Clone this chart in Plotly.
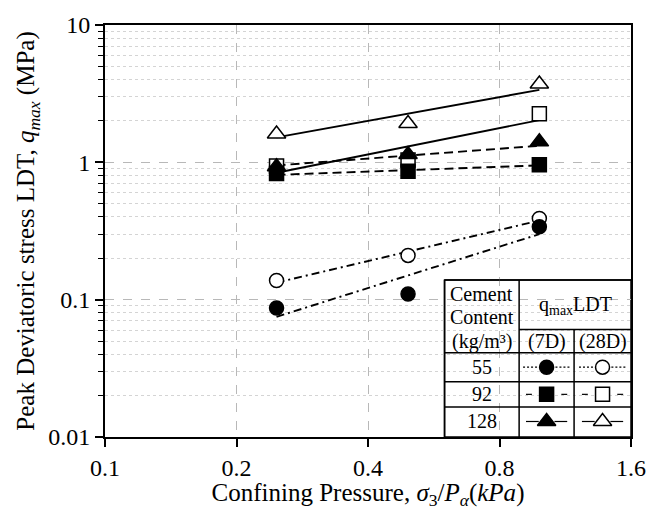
import plotly.graph_objects as go

# ---- data ----
pressure = [0.247, 0.494, 0.987]
c55_7d = [0.087, 0.110, 0.34]
c55_28d = [0.138, 0.21, 0.39]
c92_7d = [0.83, 0.86, 0.96]
c92_28d = [0.94, 1.04, 2.26]
c128_7d = [0.93, 1.14, 1.41]
c128_28d = [1.61, 1.92, 3.72]

trend_x = [0.247, 0.987]
trend_55_7d = [0.075, 0.30]
trend_55_28d = [0.133, 0.377]
trend_92_7d = [0.81, 0.95]
trend_92_28d = [0.84, 2.03]
trend_128_7d = [0.95, 1.32]
trend_128_28d = [1.52, 3.37]

x_ticks = [0.1, 0.2, 0.4, 0.8, 1.6]
x_ticktext = ["0.1", "0.2", "0.4", "0.8", "1.6"]
y_ticks = [0.01, 0.1, 1, 10]
y_ticktext = ["0.01", "0.1", "1", "10"]
cement = ["55", "92", "128"]

FONT = "Liberation Serif"
W, H = 658, 510
L, R, T, B = 105, 17, 20, 65
PW, PH = W - L - R, H - T - B


def px(x):
    return (x - L) / PW


def py(y):
    return (H - B - y) / PH


fig = go.Figure()

DASH55 = "8px,4px,2px,4px"
DASH92 = "9px,5px"

trends = [
    (trend_55_7d, DASH55), (trend_55_28d, DASH55),
    (trend_92_7d, DASH92), (trend_92_28d, "solid"),
    (trend_128_7d, DASH92), (trend_128_28d, "solid"),
]
for vals, dash in trends:
    fig.add_trace(go.Scatter(x=trend_x, y=vals, mode="lines",
                             line=dict(color="black", width=1.9, dash=dash),
                             showlegend=False, hoverinfo="skip"))

series = [
    (c55_28d, "circle-open", 14), (c92_28d, "square-open", 14), (c128_28d, "triangle-up-open", 16),
    (c92_7d, "square", 14), (c55_7d, "circle", 14), (c128_7d, "triangle-up", 16),
]
for vals, sym, sz in series:
    open_ = sym.endswith("open")
    fig.add_trace(go.Scatter(
        x=pressure, y=vals, mode="markers", showlegend=False,
        marker=dict(symbol=sym.replace("-open", ""), size=sz,
                    color="white" if open_ else "black",
                    line=dict(color="black", width=1.5))))

# legend-table symbols on an overlay axis mapped to paper coords
col7, col28 = px(555), px(612)
rows_y = [py(373), py(401), py(429)]
# (symbol, dash, segment inner offset px, segment outer offset px, size)
leg = [
    ("circle", "2px,2px", 9, 24, 14),
    ("square", "solid", 15, 21, 14),
    ("triangle-up", "solid", 8, 21, 16),
]
for i, (sym, dash, gin, gout, sz) in enumerate(leg):
    for cx, filled in [(col7, True), (col28, False)]:
        a, b = gin / PW, gout / PW
        for xs in ([cx - b, cx - a], [cx + a, cx + b]):
            fig.add_trace(go.Scatter(x=xs, y=[rows_y[i]] * 2, mode="lines",
                                     xaxis="x2", yaxis="y2", showlegend=False,
                                     line=dict(color="black", width=1.2, dash=dash),
                                     hoverinfo="skip"))
        fig.add_trace(go.Scatter(x=[cx], y=[rows_y[i]], mode="markers",
                                 xaxis="x2", yaxis="y2", showlegend=False,
                                 marker=dict(symbol=sym, size=sz,
                                             color="black" if filled else "white",
                                             line=dict(color="black", width=1.5)),
                                 hoverinfo="skip"))

minor_y = [k * 10 ** e for e in (-2, -1, 0) for k in range(2, 10)]

fig.update_layout(
    width=W, height=H,
    margin=dict(l=L, r=R, t=T, b=B),
    paper_bgcolor="white", plot_bgcolor="white",
    font=dict(family=FONT, size=24, color="black"),
    xaxis=dict(
        type="log", range=[-1, 0.20412], tickvals=x_ticks, ticktext=x_ticktext,
        showgrid=True, gridcolor="#b8b8b8", griddash="dash", gridwidth=1,
        ticks="outside", ticklen=8, tickwidth=1.5, tickcolor="black",
        showline=True, linecolor="black", linewidth=2, mirror=True,
        zeroline=False,
        tickfont=dict(size=24),
        title=dict(text="Confining Pressure, <i>σ</i><sub>3</sub>/<i>P</i><sub><i>α</i></sub>(<i>kPa</i>)",
                   font=dict(size=25), standoff=0),
    ),
    yaxis=dict(
        type="log", range=[-2, 1], tickvals=y_ticks, ticktext=y_ticktext,
        showgrid=True, gridcolor="#b8b8b8", griddash="dash", gridwidth=1,
        ticks="outside", ticklen=8, tickwidth=1.5, tickcolor="black",
        showline=True, linecolor="black", linewidth=2, mirror=True,
        zeroline=False,
        tickfont=dict(size=24),
        minor=dict(tickvals=minor_y, ticks="outside", ticklen=5, tickwidth=1.2,
                   tickcolor="black", showgrid=True, gridcolor="#d4d4d4",
                   griddash="dot", gridwidth=1),
        title=dict(text="Peak Deviatoric stress LDT, <i>q</i><sub><i>max</i></sub> (MPa)",
                   font=dict(size=25), standoff=6),
    ),
    xaxis2=dict(overlaying="x", range=[0, 1], visible=False, domain=[0, 1], anchor="y2"),
    yaxis2=dict(overlaying="y", range=[0, 1], visible=False, domain=[0, 1], anchor="x2"),
)

# table
x0, x1, x2c, x3 = px(451), px(527), px(583), 1.0
y_top, y_mid, y_head, y_r1, y_r2, y_bot = py(283), py(334), py(358), py(388), py(414), 0.0
shapes = [dict(type="rect", xref="paper", yref="paper", x0=x0, x1=x3, y0=y_bot, y1=y_top,
               fillcolor="white", line=dict(color="black", width=1.5), layer="between")]
lines = [
    (x0, y_top, x3, y_top), (x1, y_mid, x3, y_mid), (x0, y_head, x3, y_head),
    (x0, y_r1, x3, y_r1), (x0, y_r2, x3, y_r2),
    (x0, y_bot, x0, y_top), (x1, y_bot, x1, y_top), (x2c, y_bot, x2c, y_mid),
]
for a, b, c, d in lines:
    shapes.append(dict(type="line", xref="paper", yref="paper", x0=a, y0=b, x1=c, y1=d,
                       line=dict(color="black", width=1.5), layer="above"))
fig.update_layout(shapes=shapes)

ann = []
c1 = (x0 + x1) / 2
for txt, yy in [("Cement", py(297)), ("Content", py(321)), ("(kg/m³)", py(346))]:
    ann.append(dict(text=txt, x=c1, y=yy))
ann.append(dict(text="q<sub>max</sub>LDT", x=(x1 + x3) / 2, y=py(309)))
ann.append(dict(text="(7D)", x=col7, y=py(346)))
ann.append(dict(text="(28D)", x=col28, y=py(346)))
for lab, yy in zip(cement, rows_y):
    ann.append(dict(text=lab, x=c1, y=yy))
for a in ann:
    a.update(xref="paper", yref="paper", showarrow=False, xanchor="center", yanchor="middle",
             font=dict(family=FONT, size=20, color="black"))
fig.update_layout(annotations=ann)

fig.write_html("out.html")
